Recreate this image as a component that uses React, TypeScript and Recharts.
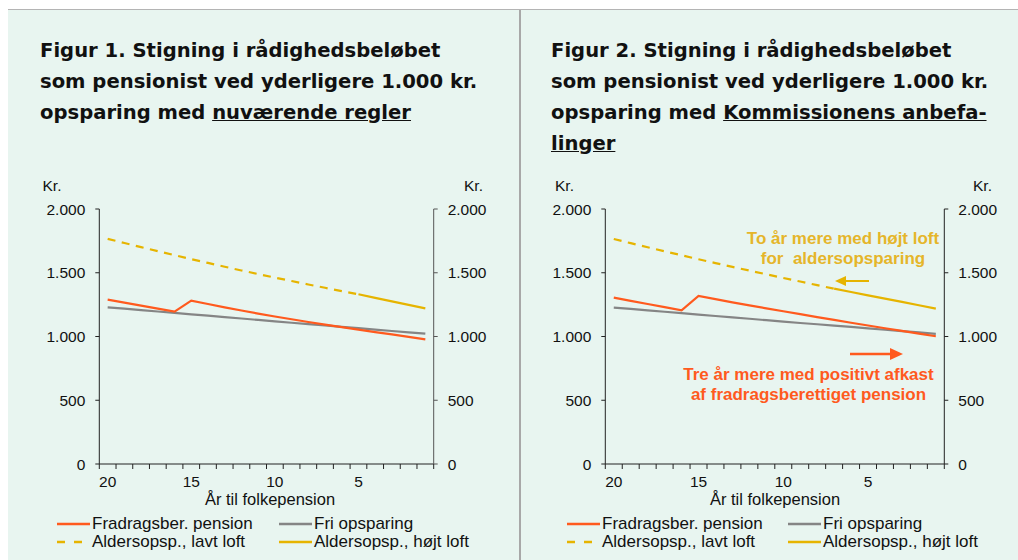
import React from "react";
import { LineChart, Line, XAxis, YAxis } from "recharts";

// År til folkepension
const CATS = [20, 19, 18, 17, 16, 15, 14, 13, 12, 11, 10, 9, 8, 7, 6, 5, 4, 3, 2, 1];
const Y_TICKS = [0, 500, 1000, 1500, 2000];
const X_LABELS = [20, 15, 10, 5];

// Figur 1 – nuværende regler
const FIG1_FRADRAG = [1289, 1266, 1242, 1218, 1195, 1281, 1255, 1229, 1204, 1180, 1157, 1135, 1114, 1093, 1073, 1054, 1035, 1016, 997, 978];
const FIG1_FRI = [1229, 1218, 1207, 1196, 1185, 1174, 1163, 1152, 1141, 1130, 1119, 1108, 1097, 1087, 1076, 1065, 1054, 1043, 1033, 1022];
const FIG1_LAVT = [1766, 1733, 1701, 1669, 1638, 1607, 1577, 1547, 1518, 1490, 1462, 1435, 1408, 1382, 1356, 1331, null, null, null, null];
const FIG1_HOJT = [null, null, null, null, null, null, null, null, null, null, null, null, null, null, null, 1331, 1303, 1275, 1248, 1221];

// Figur 2 – Kommissionens anbefalinger
const FIG2_FRADRAG = [1305, 1280, 1255, 1230, 1206, 1318, 1293, 1268, 1244, 1221, 1198, 1175, 1152, 1130, 1108, 1086, 1065, 1044, 1023, 1002];
const FIG2_FRI = [1227, 1216, 1205, 1194, 1183, 1172, 1161, 1150, 1139, 1128, 1117, 1106, 1096, 1086, 1075, 1064, 1053, 1042, 1032, 1021];
const FIG2_LAVT = [1765, 1732, 1700, 1668, 1637, 1606, 1576, 1546, 1517, 1488, 1459, 1431, 1403, 1375, null, null, null, null, null, null];
const FIG2_HOJT = [null, null, null, null, null, null, null, null, null, null, null, null, null, 1375, 1349, 1323, 1297, 1271, 1245, 1219];

const RED = "#FF5A1E";
const GREY = "#858585";
const YELLOW = "#E6B400";
const BG = "#E8F5F0";
const FONT = '"Liberation Sans", Arial, sans-serif';
const TITLE_FONT = '"DejaVu Sans", Verdana, sans-serif';

function fmt(v: number) {
  return String(v).replace(/\B(?=(\d{3})+(?!\d))/g, ".");
}

function build(f: number[], g: number[], l: (number | null)[], h: (number | null)[]) {
  return CATS.map((c, i) => ({ year: c, fradrag: f[i], fri: g[i], lavt: l[i], hojt: h[i] }));
}

function XTick(props: any) {
  const { x, y, payload, bw } = props;
  const v = payload.value;
  return (
    <g>
      <line x1={x - bw / 2} x2={x - bw / 2} y1={y} y2={y + 5} stroke="#222" />
      {v === 1 && <line x1={x + bw / 2} x2={x + bw / 2} y1={y} y2={y + 5} stroke="#222" />}
      {X_LABELS.includes(v) && (
        <text x={x} y={y + 23} textAnchor="middle" fontSize={15.5} fill="#111" fontFamily={FONT}>
          {v}
        </text>
      )}
    </g>
  );
}

type PanelProps = {
  data: any[];
  left: number;
  plotLeft: number;
  plotRight: number;
  rightAxis: string;
};

const CW = 500;
const CH = 330;

function Panel({ data, left, plotLeft, plotRight, rightAxis }: PanelProps) {
  const bw = (plotRight - plotLeft) / CATS.length;
  const tick = { fontSize: 15.5, fill: "#111", fontFamily: FONT };
  return (
    <div style={{ position: "absolute", left, top: 170 }}>
      <LineChart
        width={CW}
        height={CH}
        data={data}
        margin={{ top: 39, left: plotLeft - 60, right: CW - plotRight - 60, bottom: CH - 294 - 30 }}
      >
        <XAxis
          dataKey="year"
          scale="band"
          interval={0}
          tickSize={0}
          tickMargin={0}
          tickLine={false}
          height={30}
          axisLine={{ stroke: "#222" }}
          tick={<XTick bw={bw} />}
        />
        <YAxis
          yAxisId="left"
          width={60}
          domain={[0, 2000]}
          ticks={Y_TICKS}
          tickFormatter={fmt}
          tickSize={4}
          tickMargin={10}
          tick={tick}
          axisLine={{ stroke: "#222" }}
          tickLine={{ stroke: "#222" }}
        />
        <YAxis
          yAxisId="right"
          orientation="right"
          width={60}
          domain={[0, 2000]}
          ticks={Y_TICKS}
          tickFormatter={fmt}
          tickSize={4}
          tickMargin={10}
          tick={tick}
          axisLine={{ stroke: rightAxis }}
          tickLine={{ stroke: rightAxis }}
        />
        {/* invisible series so the right axis gets its scale */}
        <Line yAxisId="right" dataKey="fri" stroke="none" dot={false} activeDot={false} isAnimationActive={false} />
        <Line yAxisId="left" dataKey="fri" stroke={GREY} strokeWidth={2.2} dot={false} isAnimationActive={false} />
        <Line yAxisId="left" dataKey="fradrag" stroke={RED} strokeWidth={2.2} dot={false} isAnimationActive={false} />
        <Line
          yAxisId="left"
          dataKey="lavt"
          stroke={YELLOW}
          strokeWidth={2.2}
          strokeDasharray="8 6.5"
          dot={false}
          isAnimationActive={false}
        />
        <Line yAxisId="left" dataKey="hojt" stroke={YELLOW} strokeWidth={2.2} dot={false} isAnimationActive={false} />
      </LineChart>
    </div>
  );
}

function LegendItem({ x, y, color, dashed, label }: { x: number; y: number; color: string; dashed?: boolean; label: string }) {
  return (
    <div style={{ position: "absolute", left: x, top: y - 10, height: 20, display: "flex", alignItems: "center", whiteSpace: "nowrap" }}>
      <svg width={33} height={4} style={{ display: "block" }}>
        <line x1={0} x2={33} y1={2} y2={2} stroke={color} strokeWidth={2.5} strokeDasharray={dashed ? "8 9" : undefined} />
      </svg>
      <span style={{ fontFamily: FONT, fontSize: 17, color: "#111", marginLeft: 2 }}>{label}</span>
    </div>
  );
}

function Txt({ x, y, children, size = 15.5, anchor = "left", style }: any) {
  const tx = anchor === "center" ? "translate(-50%, -50%)" : "translate(0, -50%)";
  return (
    <div
      style={{
        position: "absolute",
        left: x,
        top: y,
        transform: tx,
        fontFamily: FONT,
        fontSize: size,
        color: "#111",
        whiteSpace: "nowrap",
        ...style,
      }}
    >
      {children}
    </div>
  );
}

const titleStyle: React.CSSProperties = {
  position: "absolute",
  top: 35,
  fontFamily: TITLE_FONT,
  fontWeight: 700,
  fontSize: 19.6,
  lineHeight: "31px",
  color: "#111",
  whiteSpace: "nowrap",
};

export default function App() {
  const d1 = build(FIG1_FRADRAG, FIG1_FRI, FIG1_LAVT, FIG1_HOJT);
  const d2 = build(FIG2_FRADRAG, FIG2_FRI, FIG2_LAVT, FIG2_HOJT);
  const annYellow = { fontWeight: 700, color: "#E5B52A", fontSize: 17, textAlign: "center" as const, lineHeight: "20px" };
  const annRed = { fontWeight: 700, color: RED, fontSize: 17, textAlign: "center" as const, lineHeight: "20px" };
  return (
    <div style={{ position: "absolute", left: 0, top: 0, width: 1018, height: 560, background: "#fff", overflow: "hidden" }}>
      <div style={{ position: "absolute", left: 8, top: 10, width: 1010, height: 550, background: BG }} />
      <div style={{ position: "absolute", left: 8, top: 9, width: 1010, height: 1, background: "#B4B4B4" }} />
      <div style={{ position: "absolute", left: 519, top: 10, width: 1.5, height: 550, background: "#A8A8A8" }} />

      <div style={{ ...titleStyle, left: 40 }}>
        Figur 1. Stigning i rådighedsbeløbet
        <br />
        som pensionist ved yderligere 1.000 kr.
        <br />
        opsparing med <u>nuværende regler</u>
      </div>
      <div style={{ ...titleStyle, left: 551 }}>
        Figur 2. Stigning i rådighedsbeløbet
        <br />
        som pensionist ved yderligere 1.000 kr.
        <br />
        opsparing med <u>Kommissionens anbefa-</u>
        <br />
        <u>linger</u>
      </div>

      <Panel data={d1} left={0} plotLeft={99.3} plotRight={433.7} rightAxis="#555" />
      <Panel data={d2} left={510} plotLeft={95.3} plotRight={434.3} rightAxis="#222" />

      <Txt x={42.5} y={186}>Kr.</Txt>
      <Txt x={464} y={186}>Kr.</Txt>
      <Txt x={555} y={186}>Kr.</Txt>
      <Txt x={973} y={186}>Kr.</Txt>

      <Txt x={270} y={499} size={16.5} anchor="center">År til folkepension</Txt>
      <Txt x={775} y={499} size={16.5} anchor="center">År til folkepension</Txt>

      <Txt x={843} y={249} anchor="center" style={annYellow}>
        To år mere med højt loft
        <br />
        for&nbsp; aldersopsparing
      </Txt>
      <Txt x={808.5} y={385} anchor="center" style={annRed}>
        Tre år mere med positivt afkast
        <br />
        af fradragsberettiget pension
      </Txt>

      <svg style={{ position: "absolute", left: 0, top: 0 }} width={1018} height={560}>
        <line x1={844} x2={869} y1={281} y2={281} stroke={YELLOW} strokeWidth={2} />
        <polygon points="835,281 846,276 846,286" fill={YELLOW} />
        <line x1={850} x2={892} y1={354} y2={354} stroke={RED} strokeWidth={2.5} />
        <polygon points="903,354 890,348 890,360" fill={RED} />
      </svg>

      <LegendItem x={57} y={524} color={RED} label="Fradragsber. pension" />
      <LegendItem x={279} y={524} color={GREY} label="Fri opsparing" />
      <LegendItem x={57} y={542} color={YELLOW} dashed label="Aldersopsp., lavt loft" />
      <LegendItem x={279} y={542} color={YELLOW} label="Aldersopsp., højt loft" />

      <LegendItem x={567} y={524} color={RED} label="Fradragsber. pension" />
      <LegendItem x={788} y={524} color={GREY} label="Fri opsparing" />
      <LegendItem x={567} y={542} color={YELLOW} dashed label="Aldersopsp., lavt loft" />
      <LegendItem x={788} y={542} color={YELLOW} label="Aldersopsp., højt loft" />
    </div>
  );
}
